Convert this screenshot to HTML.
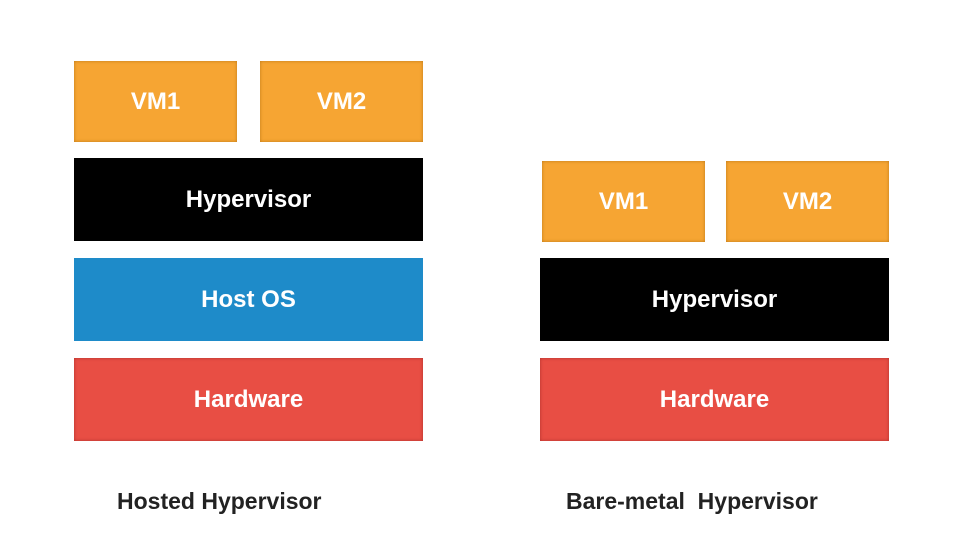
<!DOCTYPE html>
<html><head><style>
body{margin:0;width:970px;height:544px;background:#fff;position:relative;overflow:hidden;font-family:"Liberation Sans",sans-serif;font-weight:bold}
.b{position:absolute;display:flex;align-items:center;justify-content:center;color:#fff;font-size:24px}
.o{background:#F6A533;box-shadow:inset 0 0 3px rgba(150,90,0,.6)}
.k{background:#000}
.u{background:#1E8BC9}
.r{background:#E84E44;box-shadow:inset 0 0 3px rgba(120,20,20,.5)}
.l{position:absolute;top:488px;font-size:23px;color:#222;white-space:pre}
</style></head><body>
<div class="b o" style="left:74px;top:61px;width:163px;height:81px">VM1</div>
<div class="b o" style="left:260px;top:61px;width:163px;height:81px">VM2</div>
<div class="b k" style="left:74px;top:158px;width:349px;height:83px">Hypervisor</div>
<div class="b u" style="left:74px;top:258px;width:349px;height:83px">Host OS</div>
<div class="b r" style="left:74px;top:358px;width:349px;height:83px">Hardware</div>

<div class="b o" style="left:542px;top:161px;width:163px;height:81px">VM1</div>
<div class="b o" style="left:726px;top:161px;width:163px;height:81px">VM2</div>
<div class="b k" style="left:540px;top:258px;width:349px;height:83px">Hypervisor</div>
<div class="b r" style="left:540px;top:358px;width:349px;height:83px">Hardware</div>

<div class="l" style="left:117px">Hosted Hypervisor</div>
<div class="l" style="left:566px">Bare-metal  Hypervisor</div>
</body></html>
